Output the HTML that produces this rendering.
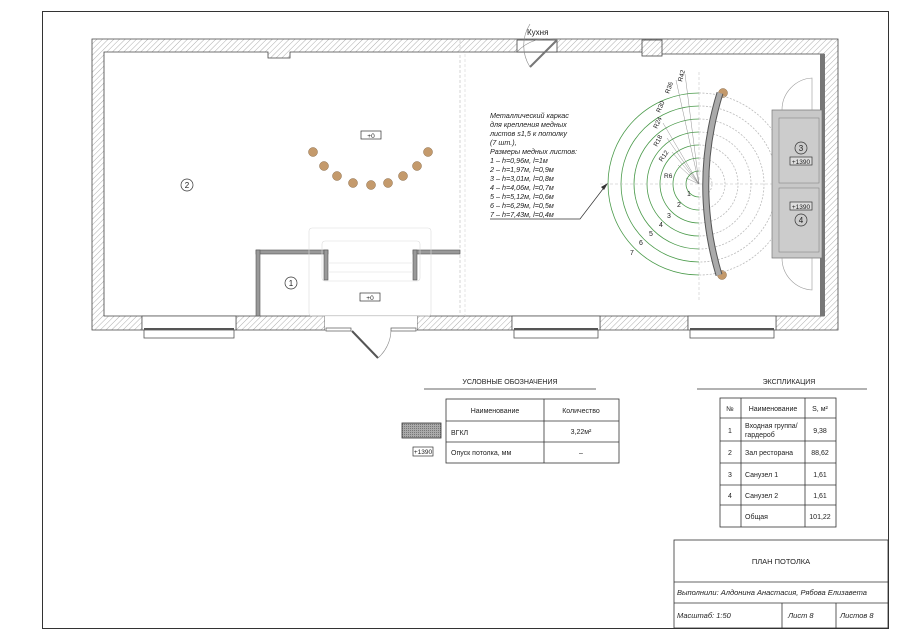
<!DOCTYPE html>
<html><head><meta charset="utf-8"><style>
html,body{margin:0;padding:0;background:#fff}
svg{display:block}
text{font-family:"Liberation Sans",sans-serif;fill:#222}
</style></head><body>
<svg width="900" height="636" viewBox="0 0 900 636" xmlns="http://www.w3.org/2000/svg">
<defs>
<pattern id="h" width="4" height="4" patternUnits="userSpaceOnUse" patternTransform="rotate(45)">
<rect width="4" height="4" fill="#fff"/><line x1="0" y1="0" x2="0" y2="4" stroke="#999" stroke-width="0.8"/></pattern>
<pattern id="d" width="2" height="2" patternUnits="userSpaceOnUse"><rect width="2" height="2" fill="#aaa"/><rect width="1" height="1" fill="#777"/></pattern>
</defs>
<rect x="42.5" y="11.5" width="846" height="617" fill="none" stroke="#333" stroke-width="1"/>

<g stroke="#444" stroke-width="0.8" fill="url(#h)">
<path d="M92,39 H838 V330 H776 V316 H688 V330 H600 V316 H512 V330 H417 V316 H325 V330 H236 V316 H142 V330 H92 Z M104,52 V316 H824 V54 H660 V52 H290 V58 H268 V52 Z" fill-rule="evenodd"/>
</g>
<rect x="517" y="40" width="40" height="12" fill="#fff" stroke="#444" stroke-width="0.8"/>
<line x1="557" y1="40" x2="530" y2="67" stroke="#777" stroke-width="2"/>
<path d="M517,52 A40,40 0 0 1 557,40" fill="none" stroke="#888" stroke-width="0.6"/>
<path d="M530,67 A40,40 0 0 1 530,24" fill="none" stroke="#888" stroke-width="0.6"/>
<text x="527" y="35" font-size="8">Кухня</text>
<rect x="642" y="40" width="20" height="16" fill="url(#h)" stroke="#444" stroke-width="0.8"/>
<g fill="#fff" stroke="#555" stroke-width="0.8">
<rect x="142" y="316" width="94" height="14"/><rect x="144" y="330" width="90" height="8"/>
<rect x="512" y="316" width="88" height="14"/><rect x="514" y="330" width="84" height="8"/>
<rect x="688" y="316" width="88" height="14"/><rect x="690" y="330" width="84" height="8"/>
</g>
<g stroke="#555" stroke-width="2"><line x1="144" y1="329" x2="234" y2="329"/><line x1="514" y1="329" x2="598" y2="329"/><line x1="690" y1="329" x2="774" y2="329"/></g>
<rect x="325" y="316" width="92" height="14" fill="#fff" stroke="none"/>
<rect x="326" y="328" width="25" height="3" fill="#fff" stroke="#555" stroke-width="0.7"/>
<rect x="391" y="328" width="25" height="3" fill="#fff" stroke="#555" stroke-width="0.7"/>
<line x1="352" y1="331" x2="378" y2="358" stroke="#555" stroke-width="2"/>
<path d="M378,358 A38,38 0 0 0 391,330" fill="none" stroke="#888" stroke-width="0.6"/>
<rect x="820" y="54" width="5" height="262" fill="#777"/>
<line x1="460" y1="40" x2="460" y2="316" stroke="#bbb" stroke-width="0.6" stroke-dasharray="3,2"/>
<line x1="465" y1="54" x2="465" y2="316" stroke="#ccc" stroke-width="0.5" stroke-dasharray="3,2"/>
<g fill="#999" stroke="#555" stroke-width="0.6">
<rect x="256" y="250" width="72" height="4"/><rect x="256" y="250" width="4" height="66"/><rect x="324" y="250" width="4" height="30"/>
<rect x="413" y="250" width="47" height="4"/><rect x="413" y="250" width="4" height="30"/>
</g>
<g fill="none" stroke="#ddd" stroke-width="0.6">
<rect x="309" y="228" width="122" height="88" rx="3"/><rect x="322" y="241" width="98" height="40" rx="3"/>
<line x1="328" y1="263" x2="413" y2="263"/><line x1="328" y1="272" x2="413" y2="272"/>
</g>
<g fill="#fff" stroke="#333" stroke-width="0.7">
<circle cx="187" cy="185" r="6"/><circle cx="291" cy="283" r="6"/>
<rect x="361" y="131" width="20" height="8"/><rect x="360" y="293" width="20" height="8"/>
</g>
<text x="187" y="188" font-size="8" text-anchor="middle">2</text>
<text x="291" y="286" font-size="8" text-anchor="middle">1</text>
<text x="371" y="138" font-size="6.5" text-anchor="middle">+0</text>
<text x="370" y="300" font-size="6.5" text-anchor="middle">+0</text>
<g fill="#c49a6c" stroke="#8a6a46" stroke-width="0.5">
<circle cx="313" cy="152" r="4.5"/><circle cx="324" cy="166" r="4.5"/><circle cx="337" cy="176" r="4.5"/><circle cx="353" cy="183" r="4.5"/><circle cx="371" cy="185" r="4.5"/><circle cx="388" cy="183" r="4.5"/><circle cx="403" cy="176" r="4.5"/><circle cx="417" cy="166" r="4.5"/><circle cx="428" cy="152" r="4.5"/>
<circle cx="723" cy="93" r="4.5"/><circle cx="722" cy="275" r="4.5"/>
</g>
<g fill="none" stroke-width="0.8">
<g stroke="#4a9a4a">
<path d="M699,171 A13,13 0 0 0 699,197"/><path d="M699,158 A26,26 0 0 0 699,210"/><path d="M699,145 A39,39 0 0 0 699,223"/><path d="M699,132 A52,52 0 0 0 699,236"/><path d="M699,119 A65,65 0 0 0 699,249"/><path d="M699,106 A78,78 0 0 0 699,262"/><path d="M699,93 A91,91 0 0 0 699,275"/>
</g>
<g stroke="#bbb" stroke-dasharray="2,1.5">
<path d="M699,171 A13,13 0 0 1 699,197"/><path d="M699,158 A26,26 0 0 1 699,210"/><path d="M699,145 A39,39 0 0 1 699,223"/><path d="M699,132 A52,52 0 0 1 699,236"/><path d="M699,119 A65,65 0 0 1 699,249"/><path d="M699,106 A78,78 0 0 1 699,262"/><path d="M699,93 A91,91 0 0 1 699,275"/>
</g>
<line x1="600" y1="184" x2="790" y2="184" stroke="#bbb" stroke-dasharray="3,2" stroke-width="0.5"/>
<line x1="699" y1="72" x2="699" y2="300" stroke="#bbb" stroke-dasharray="3,2" stroke-width="0.5"/>
</g>
<g stroke="#777" stroke-width="0.4">
<line x1="699" y1="184" x2="686" y2="178"/><line x1="699" y1="184" x2="678" y2="165"/><line x1="699" y1="184" x2="672" y2="152"/><line x1="699" y1="184" x2="667" y2="138"/><line x1="699" y1="184" x2="663" y2="123"/><line x1="699" y1="184" x2="676" y2="80"/><line x1="699" y1="184" x2="685" y2="74"/>
</g>
<g font-size="6.5">
<text x="664" y="178">R6</text>
<text x="662" y="162" transform="rotate(-55 662 162)">R12</text>
<text x="657" y="147" transform="rotate(-62 657 147)">R18</text>
<text x="657" y="129" transform="rotate(-65 657 129)">R24</text>
<text x="660" y="113" transform="rotate(-67 660 113)">R30</text>
<text x="669" y="94" transform="rotate(-70 669 94)">R36</text>
<text x="682" y="82" transform="rotate(-75 682 82)">R42</text>
</g>
<g font-size="7" fill="#4a7ab0">
<text x="687" y="196" fill="#4a7ab0">1</text><text x="677" y="207" fill="#4a7ab0">2</text><text x="667" y="218" fill="#4a7ab0">3</text><text x="659" y="227" fill="#4a7ab0">4</text><text x="649" y="236" fill="#4a7ab0">5</text><text x="639" y="245" fill="#4a7ab0">6</text><text x="630" y="255" fill="#4a7ab0">7</text>
</g>
<path d="M720,93 Q692,184 719,275" fill="none" stroke="#555" stroke-width="7"/>
<path d="M720,93 Q692,184 719,275" fill="none" stroke="#aaa" stroke-width="5"/>
<g font-size="7.2" font-style="italic">
<text x="490" y="118">Металлический каркас</text>
<text x="490" y="127">для крепления медных</text>
<text x="490" y="136">листов s1,5 к потолку</text>
<text x="490" y="145">(7 шт.),</text>
<text x="490" y="154">Размеры медных листов:</text>
<text x="490" y="163" fill="#4a7ab0">1 – h=0,96м, l=1м</text>
<text x="490" y="172" fill="#4a7ab0">2 – h=1,97м, l=0,9м</text>
<text x="490" y="181" fill="#4a7ab0">3 – h=3,01м, l=0,8м</text>
<text x="490" y="190" fill="#4a7ab0">4 – h=4,06м, l=0,7м</text>
<text x="490" y="199" fill="#4a7ab0">5 – h=5,12м, l=0,6м</text>
<text x="490" y="208" fill="#4a7ab0">6 – h=6,29м, l=0,5м</text>
<text x="490" y="217" fill="#4a7ab0">7 – h=7,43м, l=0,4м</text>
</g>
<polyline points="490,219 580,219 606,185" fill="none" stroke="#333" stroke-width="0.7"/>
<polygon points="608,183 601,187 604,190" fill="#333"/>
<path d="M772,110 H822 V258 H772 Z" fill="#c8c8c8" stroke="#777" stroke-width="0.7"/>
<rect x="779" y="118" width="40" height="65" fill="#ccc" stroke="#888" stroke-width="0.6"/>
<rect x="779" y="188" width="40" height="64" fill="#ccc" stroke="#888" stroke-width="0.6"/>
<path d="M812,110 V78 A32,32 0 0 0 782,110" fill="none" stroke="#999" stroke-width="0.6"/>
<path d="M812,258 V290 A32,32 0 0 1 782,258" fill="none" stroke="#999" stroke-width="0.6"/>
<circle cx="801" cy="148" r="6" fill="none" stroke="#333" stroke-width="0.7"/>
<circle cx="801" cy="220" r="6" fill="none" stroke="#333" stroke-width="0.7"/>
<text x="801" y="151" font-size="8" text-anchor="middle">3</text>
<text x="801" y="223" font-size="8" text-anchor="middle">4</text>
<rect x="790" y="157" width="22" height="8" fill="#ddd" stroke="#333" stroke-width="0.7"/>
<rect x="790" y="202" width="22" height="8" fill="#ddd" stroke="#333" stroke-width="0.7"/>
<text x="801" y="164" font-size="6.5" text-anchor="middle">+1390</text>
<text x="801" y="209" font-size="6.5" text-anchor="middle">+1390</text>

<text x="510" y="384" font-size="7" text-anchor="middle">УСЛОВНЫЕ ОБОЗНАЧЕНИЯ</text>
<line x1="424" y1="389" x2="596" y2="389" stroke="#333" stroke-width="0.8"/>
<g fill="none" stroke="#333" stroke-width="0.8">
<rect x="446" y="399" width="173" height="64"/><line x1="446" y1="421" x2="619" y2="421"/><line x1="446" y1="442" x2="619" y2="442"/><line x1="544" y1="399" x2="544" y2="463"/>
</g>
<rect x="402" y="423" width="39" height="15" fill="url(#d)" stroke="#333" stroke-width="0.8"/>
<rect x="413" y="447" width="20" height="9" fill="#fff" stroke="#333" stroke-width="0.7"/>
<text x="423" y="454" font-size="6.5" text-anchor="middle">+1390</text>
<g font-size="7">
<text x="495" y="413" text-anchor="middle">Наименование</text>
<text x="581" y="413" text-anchor="middle">Количество</text>
<text x="451" y="435">ВГКЛ</text>
<text x="581" y="434" text-anchor="middle">3,22м²</text>
<text x="451" y="455">Опуск потолка, мм</text>
<text x="581" y="455" text-anchor="middle">–</text>
</g>
<text x="789" y="384" font-size="7" text-anchor="middle">ЭКСПЛИКАЦИЯ</text>
<line x1="697" y1="389" x2="867" y2="389" stroke="#333" stroke-width="0.8"/>
<g fill="none" stroke="#333" stroke-width="0.8">
<rect x="720" y="398" width="116" height="129"/><line x1="741" y1="398" x2="741" y2="527"/><line x1="805" y1="398" x2="805" y2="527"/>
<line x1="720" y1="418" x2="836" y2="418"/><line x1="720" y1="441" x2="836" y2="441"/><line x1="720" y1="463" x2="836" y2="463"/><line x1="720" y1="485" x2="836" y2="485"/><line x1="720" y1="505" x2="836" y2="505"/>
</g>
<g font-size="7">
<text x="730" y="411" text-anchor="middle">№</text><text x="773" y="411" text-anchor="middle">Наименование</text><text x="820" y="411" text-anchor="middle">S, м²</text>
<text x="730" y="433" text-anchor="middle">1</text><text x="745" y="428">Входная группа/</text><text x="745" y="437">гардероб</text><text x="820" y="433" text-anchor="middle">9,38</text>
<text x="730" y="455" text-anchor="middle">2</text><text x="745" y="455">Зал ресторана</text><text x="820" y="455" text-anchor="middle">88,62</text>
<text x="730" y="477" text-anchor="middle">3</text><text x="745" y="477">Санузел 1</text><text x="820" y="477" text-anchor="middle">1,61</text>
<text x="730" y="498" text-anchor="middle">4</text><text x="745" y="498">Санузел 2</text><text x="820" y="498" text-anchor="middle">1,61</text>
<text x="745" y="519">Общая</text><text x="820" y="519" text-anchor="middle">101,22</text>
</g>
<g fill="none" stroke="#333" stroke-width="0.8">
<rect x="674" y="540" width="214" height="88"/><line x1="674" y1="582" x2="888" y2="582"/><line x1="674" y1="603" x2="888" y2="603"/><line x1="782" y1="603" x2="782" y2="628"/><line x1="836" y1="603" x2="836" y2="628"/>
</g>
<g font-size="7.5">
<text x="781" y="564" text-anchor="middle">ПЛАН ПОТОЛКА</text>
<text x="677" y="595" font-style="italic">Выполнили: Алдонина Анастасия, Рябова Елизавета</text>
<text x="677" y="618" font-style="italic">Масштаб: 1:50</text>
<text x="788" y="618" font-style="italic">Лист 8</text>
<text x="840" y="618" font-style="italic">Листов 8</text>
</g>
</svg>
</body></html>
